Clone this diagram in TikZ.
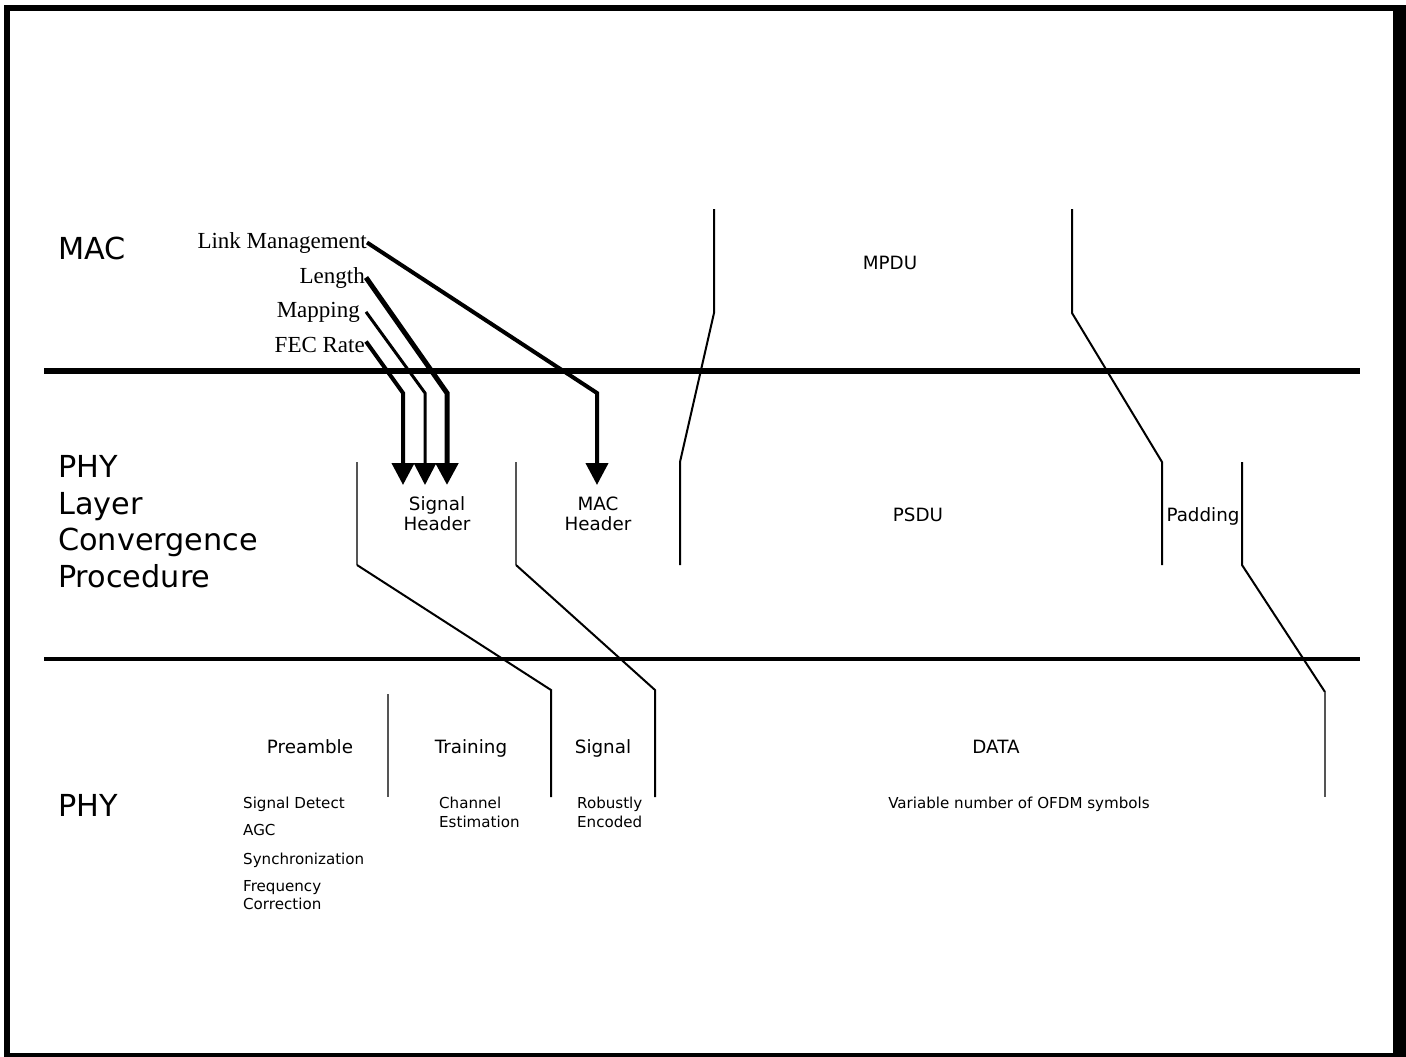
\documentclass[tikz,border=0pt]{standalone}
\usepackage{fontspec}
\setmainfont{Liberation Serif}
\newfontfamily\dv{DejaVu Sans}
\usetikzlibrary{arrows.meta}
\definecolor{lgray}{HTML}{555555}
\begin{document}
\begin{tikzpicture}[x=1pt,y=-1pt,
  big/.style={font=\dv\fontsize{30.3}{36.5}\selectfont, inner sep=0pt, align=left},
  mid/.style={font=\dv\fontsize{18.3}{20}\selectfont, inner sep=0pt, align=center},
  small/.style={font=\dv\fontsize{15.1}{18.5}\selectfont, inner sep=0pt, align=left},
  ser/.style={font=\fontsize{23}{26}\selectfont, inner sep=0pt},
  seg/.style={line width=2pt, black, line join=miter},
  gseg/.style={line width=2.4pt, lgray},
  feed/.style={-{Triangle[length=22pt,width=22pt]}, line join=miter}]
\useasboundingbox (0,0) rectangle (1406,1057);
\fill[white] (0,0) rectangle (1406,1057);
% frame
\fill[black] (4,5) rectangle (10,1057);
\fill[black] (4,5) rectangle (1406,11);
\fill[black] (1393,5) rectangle (1406,1057);
\fill[black] (4,1053) rectangle (1406,1057);
% layer separators
\draw[line width=6pt] (44,371) -- (1360,371);
\draw[line width=3.5pt] (44,659) -- (1360,659);
% layer labels
\node[big, anchor=base west] (mac) at (58,259) {MAC};
\node[big, anchor=base west] (plcp) at (58,587) {PHY\\Layer\\Convergence\\Procedure};
\node[big, anchor=base west] (phy) at (58,816) {PHY};
% MAC parameters
\node[ser, anchor=base east] (lm) at (367,248) {Link Management};
\node[ser, anchor=base east] (len) at (365,283) {Length};
\node[ser, anchor=base east] (map) at (360,317) {Mapping};
\node[ser, anchor=base east] (fec) at (365,352) {FEC Rate};
% fields
\node[mid, anchor=base] (mpdu) at (890,269) {MPDU};
\node[mid, anchor=base] (sighdr) at (437,530) {Signal\\Header};
\node[mid, anchor=base] (machdr) at (598,530) {MAC\\Header};
\node[mid, anchor=base] (psdu) at (918,521) {PSDU};
\node[mid, anchor=base] (pad) at (1203,521) {Padding};
\node[mid, anchor=base] (pre) at (310,753) {Preamble};
\node[mid, anchor=base] (tr) at (471,753) {Training};
\node[mid, anchor=base] (sig) at (603,753) {Signal};
\node[mid, anchor=base] (data) at (996,753) {DATA};
% details
\node[small, anchor=base west] (sd) at (243,808.5) {Signal Detect};
\node[small, anchor=base west] (agc) at (243,835.5) {AGC};
\node[small, anchor=base west] (syn) at (243,864.5) {Synchronization};
\node[small, anchor=base west] (fc) at (243,909.5) {Frequency\\Correction};
\node[small, anchor=base west] (ce) at (439,827) {Channel\\Estimation};
\node[small, anchor=base west] (re) at (577,827) {Robustly\\Encoded};
\node[small, anchor=base] (vn) at (1019,808.5) {Variable number of OFDM symbols};
% boundary lines
\draw[gseg] (357,462) -- (357,565);
\draw[seg] (357,565) -- (551,690) -- (551,797);
\draw[gseg] (516,462) -- (516,565);
\draw[seg] (516,565) -- (655,690) -- (655,797);
\draw[seg] (714,209) -- (714,313) -- (680,462) -- (680,565);
\draw[seg] (1072,209) -- (1072,313) -- (1162,462) -- (1162,565);
\draw[seg] (1242,462) -- (1242,565) -- (1325,692);
\draw[gseg] (1325,692) -- (1325,797);
\draw[gseg] (388,694) -- (388,797);
% arrows
\coordinate (lmB) at (597,393);
\coordinate (lmT) at (597,485);
\coordinate (lenB) at (447,393);
\coordinate (lenT) at (447,485);
\coordinate (mapB) at (425,393);
\coordinate (mapT) at (425,485);
\coordinate (fecB) at (403,393);
\coordinate (fecT) at (403,485);
\draw[feed, line width=4pt] (lm.east) -- (lmB) -- (lmT);
\draw[feed, line width=5pt] ([xshift=1pt]len.east) -- (lenB) -- (lenT);
\draw[feed, line width=3pt] ([xshift=6pt]map.east) -- (mapB) -- (mapT);
\draw[feed, line width=4pt] ([xshift=1pt,yshift=3pt]fec.east) -- (fecB) -- (fecT);
\end{tikzpicture}
\end{document}
